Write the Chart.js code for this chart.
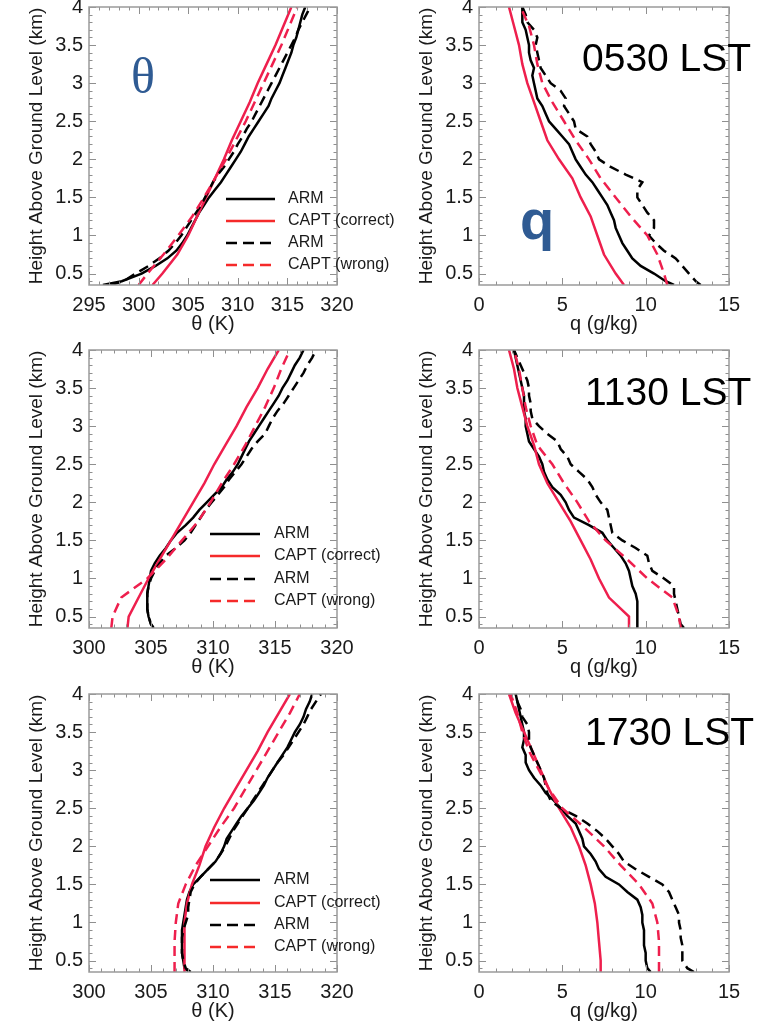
<!DOCTYPE html>
<html>
<head>
<meta charset="utf-8">
<script src="https://cdn.jsdelivr.net/npm/chart.js@4.4.1/dist/chart.umd.min.js"></script>
<style>
html,body{margin:0;padding:0;background:#fff;width:776px;height:1023px;overflow:hidden;position:relative}
canvas{position:absolute}
</style>
</head>
<body>
<canvas id="p2" width="386" height="358" style="left:390px;top:-13px"></canvas>
<canvas id="p4" width="386" height="358" style="left:390px;top:330px"></canvas>
<canvas id="p6" width="386" height="358" style="left:390px;top:674px"></canvas>
<canvas id="p1" width="420" height="358" style="left:0;top:-13px"></canvas>
<canvas id="p3" width="420" height="358" style="left:0;top:330px"></canvas>
<canvas id="p5" width="420" height="358" style="left:0;top:674px"></canvas>
<script>
// heights (km) of the sounding levels and of the model levels
const hObs=[0.35,0.4,0.5,0.6,0.7,0.8,0.9,1.0,1.1,1.2,1.3,1.4,1.5,1.6,1.7,1.8,1.9,2.0,2.1,2.2,2.3,2.4,2.5,2.6,2.7,2.8,2.9,3.0,3.1,3.2,3.3,3.4,3.5,3.6,3.7,3.8,3.9,4.0]
const hMod=[0.35,0.5,0.75,1,1.25,1.5,1.75,2,2.25,2.5,2.75,3,3.25,3.5,3.75,4]

const hTicks=[0.5,1,1.5,2,2.5,3,3.5,4]
const hTickLabels=['0.5','1','1.5','2','2.5','3','3.5','4']
const thetaTicks1=[295,300,305,310,315,320]
const thetaTicks=[300,305,310,315,320]
const qTicks=[0,5,10,15]
const legendLabels=['ARM','CAPT (correct)','ARM','CAPT (wrong)']
const times=['0530 LST','1130 LST','1730 LST']

// 0530 LST
const thetaArm1=[296.4,298.3,300.3,301.7,302.9,303.8,304.4,304.9,305.3,305.7,306.1,306.6,307.1,307.7,308.3,308.8,309.3,309.8,310.3,310.7,311.1,311.6,312.1,312.6,313.1,313.4,313.8,314.2,314.5,314.8,315.1,315.4,315.6,315.9,316.1,316.3,316.5,316.8]
const thetaArmD1=[297.2,298.5,299.7,301.0,302.1,303.0,303.7,304.3,304.8,305.3,305.8,306.3,306.7,307.1,307.5,308.0,308.6,309.1,309.6,310.0,310.5,310.9,311.4,311.8,312.2,312.6,313.0,313.4,313.8,314.2,314.6,315.0,315.4,315.8,316.1,316.5,316.9,317.3]
const thetaOk1=[301.4,302.4,303.9,305.0,305.9,306.8,307.7,308.6,309.4,310.3,311.2,312.0,312.9,313.8,314.6,315.4]
const thetaBad1=[300.0,300.9,302.5,304.0,305.4,306.6,307.7,308.8,309.8,310.8,311.7,312.6,313.5,314.4,315.2,316.0]
const qArm1=[11.7,11.2,10.5,9.7,9.2,8.9,8.6,8.4,8.2,8.1,7.9,7.7,7.4,7.1,6.8,6.4,6.1,5.8,5.6,5.4,5.0,4.6,4.2,4.0,3.8,3.5,3.4,3.3,3.2,3.3,3.1,3.0,3.0,2.9,2.8,2.6,2.6,2.6]
const qArmD1=[13.3,13.0,12.6,12.2,11.8,11.1,10.6,10.2,10.5,10.5,10.1,9.8,9.5,9.5,9.8,8.8,7.9,7.2,7.0,6.7,6.5,5.8,5.7,5.4,5.1,5.2,4.9,4.3,4.0,3.7,3.6,3.5,3.4,3.5,3.3,2.9,2.8,2.6]
const qOk1=[8.7,8.2,7.5,7.1,6.7,6.1,5.6,4.8,4.1,3.7,3.3,2.9,2.6,2.4,2.1,1.8]
const qBad1=[11.3,11.1,10.7,10.1,9.1,8.2,7.3,6.6,5.8,5.1,4.4,3.8,3.5,3.3,3.0,2.5]

// 1130 LST
const thetaArm2=[305.2,305.0,304.8,304.7,304.7,304.7,304.8,304.9,305.0,305.3,305.7,306.2,306.6,307.1,307.8,308.4,308.9,309.5,310.1,310.7,311.1,311.6,312.0,312.3,312.6,312.9,313.3,313.7,314.1,314.5,314.9,315.3,315.6,316.0,316.3,316.6,317.0,317.3]
const thetaArmD2=[305.2,305.0,304.8,304.7,304.7,304.7,304.8,305.0,305.3,305.7,306.2,307.0,307.7,308.2,308.6,309.0,309.4,309.9,310.4,310.9,311.3,311.8,312.3,312.7,313.1,313.6,314.2,314.5,314.8,315.2,315.7,316.1,316.5,316.9,317.3,317.6,318.0,318.3]
const thetaOk2=[303.1,303.2,304.0,304.8,305.7,306.6,307.5,308.4,309.3,310.1,311.0,311.9,312.7,313.6,314.4,315.3]
const thetaBad2=[301.8,301.9,302.6,304.7,306.2,307.5,308.8,309.8,310.7,311.7,312.6,313.4,314.2,314.9,315.5,316.2]
const qArm2=[9.5,9.5,9.5,9.5,9.5,9.4,9.2,9.1,9.0,8.8,8.5,8.1,7.7,7.4,6.6,5.7,5.4,5.2,4.9,4.4,4.1,3.9,3.8,3.6,3.3,3.0,2.9,2.8,2.8,2.7,2.7,2.7,2.6,2.5,2.4,2.3,2.2,2.1]
const qArmD2=[12.3,12.1,12.0,11.9,11.8,11.7,11.7,11.1,10.4,10.2,10.1,9.4,8.6,8.0,7.9,7.8,7.7,7.3,7.0,6.8,6.5,6.0,5.5,5.3,4.9,4.7,4.1,3.6,3.2,3.1,3.1,3.0,3.0,2.9,2.7,2.5,2.3,2.1]
const qOk2=[9.0,9.0,7.8,7.2,6.7,6.1,5.5,4.8,4.1,3.6,3.3,2.9,2.6,2.3,2.1,1.8]
const qBad2=[12.1,12.0,11.6,10.1,8.9,7.6,6.6,5.9,5.1,4.4,3.5,3.1,2.8,2.6,2.4,2.1]

// 1730 LST
const thetaArm3=[308.1,307.7,307.6,307.5,307.5,307.5,307.5,307.6,307.7,307.8,307.9,308.1,308.4,309.0,309.6,310.2,310.6,310.9,311.1,311.5,311.9,312.3,312.8,313.3,313.7,314.1,314.4,314.8,315.2,315.6,316.0,316.3,316.6,317.0,317.3,317.5,317.8,318.0]
const thetaArmD3=[308.2,307.8,307.6,307.5,307.5,307.5,307.6,307.8,308.0,308.0,308.1,308.2,308.5,309.0,309.6,310.2,310.6,311.0,311.3,311.6,312.0,312.4,312.8,313.2,313.6,314.0,314.4,314.8,315.2,315.7,316.1,316.5,316.9,317.3,317.6,317.9,318.3,318.7]
const thetaOk3=[307.7,307.7,307.7,307.7,307.9,308.3,308.9,309.4,310.1,310.9,311.8,312.7,313.6,314.4,315.3,316.2]
const thetaBad3=[306.9,306.9,306.9,307.0,307.2,307.8,308.6,309.6,310.6,311.7,312.6,313.5,314.4,315.3,316.2,317.0]
const qArm3=[10.3,10.1,10.0,10.0,9.9,9.9,9.9,9.8,9.8,9.7,9.5,8.9,8.4,7.6,7.2,7.0,6.7,6.3,6.2,6.0,5.8,5.3,4.9,4.5,4.0,3.7,3.3,3.0,2.8,2.8,2.6,2.7,2.7,2.6,2.5,2.4,2.3,2.2]
const qArmD3=[12.9,12.5,12.2,12.2,12.2,12.1,12.1,12.0,12.0,11.8,11.6,11.4,11.0,10.2,9.4,8.7,8.4,8.0,7.6,7.1,6.5,5.8,4.9,4.3,4.1,4.0,3.9,3.7,3.5,3.3,3.1,3.0,3.0,2.9,2.6,2.5,2.3,2.2]
const qOk3=[7.3,7.3,7.2,7.1,6.95,6.7,6.4,6.0,5.5,4.8,4.2,3.7,3.2,2.7,2.2,1.8]
const qBad3=[10.8,10.8,10.8,10.7,10.4,9.6,8.5,7.5,6.3,5.0,4.2,3.6,3.0,2.6,2.3,1.9]

const RED='#ee1f4d',BLK='#000',TXT='#1a1a1a',FONT='"Liberation Sans", Arial, sans-serif'
Chart.defaults.font.family=FONT
Chart.defaults.color=TXT

const pts=(h,v)=>h.map((y,i)=>({x:v[i],y}))
const ds=(h,v,color,dash)=>({data:pts(h,v),showLine:true,borderColor:color,borderWidth:2.5,borderDash:dash,pointRadius:0,tension:0,fill:false})

// box, inward ticks, legend and labels
const deco={id:'deco',afterDraw(ch,args,o){
  const c=ch.ctx,{left,right,top,bottom}=ch.chartArea,xs=ch.scales.x,ys=ch.scales.y
  c.save()
  c.strokeStyle='#8f8f8f';c.lineWidth=1
  c.beginPath()
  for(let v=Math.ceil(xs.min);v<=xs.max;v++){
    const p=Math.round(xs.getPixelForValue(v))+.5,L=v%5?3.5:7
    c.moveTo(p,bottom);c.lineTo(p,bottom-L);c.moveTo(p,top);c.lineTo(p,top+L)
  }
  for(let k=Math.ceil(ys.min*10);k<=Math.round(ys.max*10);k++){
    const p=Math.round(ys.getPixelForValue(k/10))+.5,L=k%5?3.5:7
    c.moveTo(left,p);c.lineTo(left+L,p);c.moveTo(right,p);c.lineTo(right-L,p)
  }
  c.stroke()
  c.lineWidth=1.5;c.strokeStyle='#9a9a9a'
  c.strokeRect(left,top,right-left,bottom-top)
  if(o.legend){
    const L=o.legend
    legendLabels.forEach((t,i)=>{
      const y=L.ys[i]-o.oy
      c.strokeStyle=i%2?'#f52a2a':'#000';c.lineWidth=2.5;c.setLineDash(i>1?[11,6]:[])
      c.beginPath();c.moveTo(L.x0-o.ox,y);c.lineTo(L.x1-o.ox,y);c.stroke()
      c.setLineDash([])
      c.fillStyle=TXT;c.font='16px '+FONT;c.textAlign='left';c.textBaseline='middle'
      c.fillText(t,L.tx-o.ox,y)
    })
  }
  ;(o.notes||[]).forEach(n=>{
    c.font=n.font;c.fillStyle=n.color;c.textAlign=n.align||'left';c.textBaseline=n.base||'alphabetic'
    c.fillText(n.text,n.x-o.ox,n.y-o.oy)
  })
  c.restore()
}}

// boxRight: page x of the right edge of the plot box
function panel(id,ox,oy,boxRight,xMin,xMax,xTicks,xTitle,arm,armD,ok,bad,extra){
  const cv=document.getElementById(id)
  new Chart(cv,{
    type:'scatter',
    data:{datasets:[ds(hMod,bad,RED,[10,6]),ds(hObs,armD,BLK,[10,6]),ds(hMod,ok,RED,[]),ds(hObs,arm,BLK,[])]},
    options:{
      responsive:false,animation:false,
      layout:{padding:{left:0,top:20,right:cv.width-(boxRight-ox),bottom:0}},
      plugins:{legend:{display:false},tooltip:{enabled:false},deco:Object.assign({ox,oy},extra)},
      scales:{
        x:{type:'linear',min:xMin,max:xMax,
          afterFit:s=>{s.height=60},
          afterBuildTicks:s=>{s.ticks=xTicks.map(v=>({value:v}))},
          grid:{display:false,drawTicks:false},border:{display:false},
          ticks:{font:{size:20},padding:8,autoSkip:false,maxRotation:0,color:TXT,callback:(v,i)=>String(xTicks[i])},
          title:{display:true,text:xTitle,font:{size:20},padding:{top:0,bottom:9},color:TXT}},
        y:{type:'linear',min:0.35,max:4,
          afterFit:s=>{s.width=89},
          afterBuildTicks:s=>{s.ticks=hTicks.map(v=>({value:v}))},
          grid:{display:false,drawTicks:false},border:{display:false},
          ticks:{font:{size:20},padding:6,autoSkip:false,color:TXT,callback:(v,i)=>hTickLabels[i]},
          title:{display:true,text:'Height Above Ground Level (km)',font:{size:19},padding:{top:25.6,bottom:0},color:TXT}}
      }
    },
    plugins:[deco]
  })
}

const blue='#2f5b93'
function leftPanel(id,oy,xMin,xTicks,arm,armD,ok,bad,legend,notes){
  panel(id,0,oy,337,xMin,320,xTicks,'θ (K)',arm,armD,ok,bad,{legend,notes})
}
function rightPanel(id,oy,arm,armD,ok,bad,notes){
  panel(id,390,oy,729,0,15,qTicks,'q (g/kg)',arm,armD,ok,bad,{notes})
}

leftPanel('p1',-13,295,thetaTicks1,thetaArm1,thetaArmD1,thetaOk1,thetaBad1,
  {x0:226,x1:275,tx:288,ys:[199,221,243,265]},
  [{text:'θ',x:143,y:80,font:'50px "Liberation Serif", serif',color:blue,align:'center',base:'middle'}])
rightPanel('p2',-13,qArm1,qArmD1,qOk1,qBad1,
  [{text:'q',x:520,y:239,font:'bold 56px '+FONT,color:blue},
   {text:times[0],x:582,y:71,font:'39px '+FONT,color:'#000'}])
leftPanel('p3',330,300,thetaTicks,thetaArm2,thetaArmD2,thetaOk2,thetaBad2,
  {x0:210,x1:260,tx:274,ys:[534,556,579,601]},[])
rightPanel('p4',330,qArm2,qArmD2,qOk2,qBad2,
  [{text:times[1],x:585,y:405,font:'39px '+FONT,color:'#000'}])
leftPanel('p5',674,300,thetaTicks,thetaArm3,thetaArmD3,thetaOk3,thetaBad3,
  {x0:210,x1:260,tx:274,ys:[880,903,925,947]},[])
rightPanel('p6',674,qArm3,qArmD3,qOk3,qBad3,
  [{text:times[2],x:585,y:745,font:'39px '+FONT,color:'#000'}])
</script>
</body>
</html>
